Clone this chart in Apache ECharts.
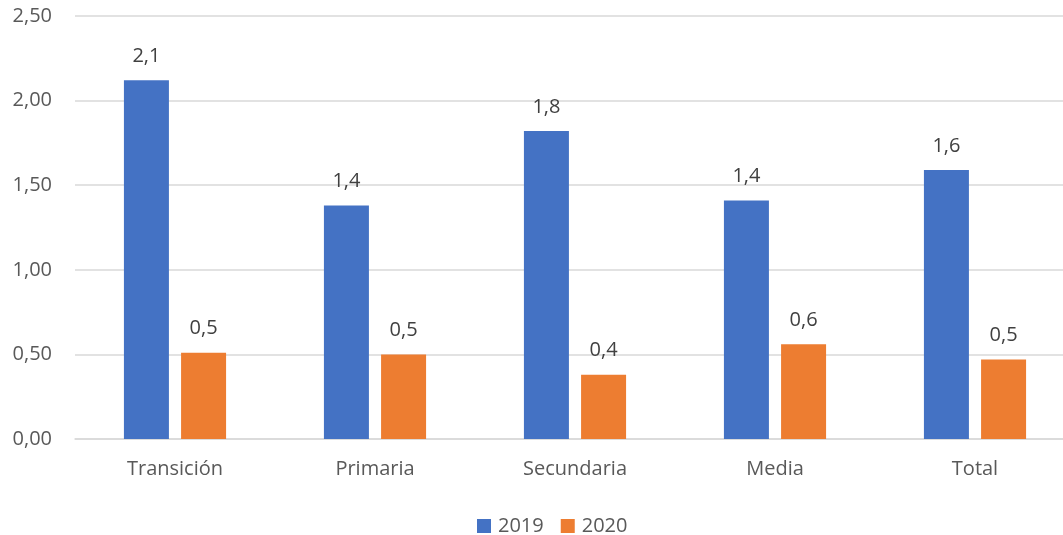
<!DOCTYPE html>
<html><head><meta charset="utf-8">
<script src="https://cdn.jsdelivr.net/npm/echarts@6/dist/echarts.min.js"></script>
<style>html,body{margin:0;padding:0;background:#fff;overflow:hidden}#c{width:1075px;height:535px}</style>
</head><body><div id="c"></div>
<script>
const categories = ['Transición', 'Primaria', 'Secundaria', 'Media', 'Total'];
const values2019 = [2.12, 1.38, 1.82, 1.41, 1.59];
const values2020 = [0.51, 0.50, 0.38, 0.56, 0.47];
const seriesNames = ['2019', '2020'];
const FONT = 'Open Sans';
const fmtAxis = v => v.toFixed(2).replace('.', ',');
const fmtLabel = p => p.value.toFixed(1).replace('.', ',');
const chart = echarts.init(document.getElementById('c'));
const labelCfg = {show: true, position: 'top', distance: 14, color: '#404040', fontSize: 20, fontFamily: FONT, formatter: fmtLabel};
chart.setOption({
  animation: false,
  textStyle: {fontFamily: FONT},
  grid: {left: 75, right: 0, top: 16, bottom: 96, containLabel: false},
  legend: {top: 516, left: 477, padding: 0, itemWidth: 14, itemHeight: 14, itemGap: 17,
    icon: 'rect', textStyle: {fontSize: 20, color: '#595959', fontFamily: FONT, padding: [0, 0, 0, 2]},
    data: seriesNames},
  xAxis: {type: 'category', data: categories,
    axisLine: {lineStyle: {color: '#d9d9d9', width: 1.5}},
    axisTick: {show: false},
    axisLabel: {color: '#595959', fontSize: 20, fontFamily: FONT, margin: 20}},
  yAxis: {type: 'value', min: 0, max: 2.5, interval: 0.5,
    axisLine: {show: false}, axisTick: {show: false},
    splitLine: {lineStyle: {color: '#d9d9d9', width: 1.5}},
    axisLabel: {color: '#595959', fontSize: 20, fontFamily: FONT, margin: 23, formatter: fmtAxis}},
  series: [
    {name: seriesNames[0], type: 'bar', data: values2019, barWidth: 45, barGap: '27%', itemStyle: {color: '#4472c4'}, label: labelCfg},
    {name: seriesNames[1], type: 'bar', data: values2020, barWidth: 45, barGap: '27%', itemStyle: {color: '#ed7d31'}, label: labelCfg}
  ]
});
</script></body></html>
